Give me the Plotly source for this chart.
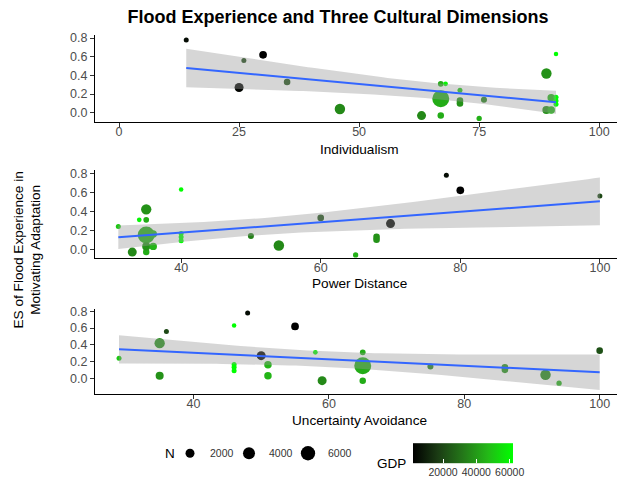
import numpy as np
import plotly.graph_objects as go

# Hofstede dimension scores per study sample
individualism = [14, 30, 26, 25, 35, 46, 63, 67, 67, 67, 68, 71,
                 71, 71, 75, 76, 89, 89, 90, 90, 91, 91, 91, 91]
power_distance = [78, 80, 100, 70, 60, 54, 33, 35, 35, 35, 34, 31,
                  68, 68, 65, 50, 35, 35, 36, 36, 40, 40, 40, 40]
uncertainty_avoidance = [48, 55, 36, 50, 100, 92, 59, 65, 65, 65, 58, 29,
                         86, 86, 94, 75, 35, 35, 51, 51, 46, 46, 46, 46]

# Effect size of flood experience, sample size and GDP per sample
effect_size = [0.78, 0.62, 0.56, 0.27, 0.33, 0.04, -0.03, 0.15, 0.31, -0.03, 0.31, 0.24,
               0.13, 0.10, -0.06, 0.14, 0.42, 0.03, 0.16, 0.03, 0.63, 0.165, 0.13, 0.09]
sample_n = [400, 1350, 400, 2000, 900, 2900, 2000, 8800, 600, 850, 330, 400,
            900, 900, 480, 700, 2800, 1500, 1250, 1250, 290, 400, 400, 400]
gdp = [5000, 2000, 20000, 3000, 22000, 36000, 36000, 44000, 44000, 44000, 60000, 50000,
       38000, 38000, 45000, 34000, 38000, 38000, 46000, 46000, 62000, 62000, 62000, 62000]

n_legend = [2000, 4000, 6000]
gdp_ticks = [20000, 40000, 60000]

FONT = "Liberation Sans, Arial, sans-serif"
W, H = 617, 483

# black -> green gradient (interpolated in Lab space)
GDP_SCALE = [[0.0, "#000000"], [0.25, "rgb(27,60,20)"], [0.5, "rgb(36,120,25)"],
             [0.75, "rgb(35,185,23)"], [1.0, "#00FF00"]]

T_CRIT = {22: 2.0739}


def marker_px(n):
    return 1.76 + 0.162 * np.sqrt(np.asarray(n, dtype=float))


def lm_band(x, y, num=80):
    x = np.asarray(x, dtype=float)
    y = np.asarray(y, dtype=float)
    n = len(x)
    slope, intercept = np.polyfit(x, y, 1)
    resid = y - (intercept + slope * x)
    s = np.sqrt(np.sum(resid ** 2) / (n - 2))
    xbar = x.mean()
    sxx = np.sum((x - xbar) ** 2)
    xs = np.linspace(x.min(), x.max(), num)
    fit = intercept + slope * xs
    se = s * np.sqrt(1.0 / n + (xs - xbar) ** 2 / sxx)
    t = T_CRIT.get(n - 2, 1.96)
    return xs, fit, fit - t * se, fit + t * se


def py(px):
    return 1 - px / H


panels = [
    dict(x=individualism, title="Individualism", top=31, bottom=119.3,
         xrange=[-5.0, 103.7], yrange=[-0.102, 0.835], ticks=[0, 25, 50, 75, 100], title_y=146.3),
    dict(x=power_distance, title="Power Distance", top=167.5, bottom=256,
         xrange=[27.66, 102.45], yrange=[-0.091, 0.833], ticks=[40, 60, 80, 100], title_y=282.2),
    dict(x=uncertainty_avoidance, title="Uncertainty Avoidance", top=307.8, bottom=393.3,
         xrange=[25.45, 102.56], yrange=[-0.19, 0.826], ticks=[40, 60, 80, 100], title_y=419.6),
]

fig = go.Figure()
x_left = 95 / W
annotations = []
gmin, gmax = min(gdp), max(gdp)

for i, p in enumerate(panels, start=1):
    sfx = "" if i == 1 else str(i)
    xa, ya = "x" + sfx, "y" + sfx

    fig.add_trace(go.Scatter(
        x=p["x"], y=effect_size, mode="markers", xaxis=xa, yaxis=ya, showlegend=False,
        marker=dict(size=marker_px(sample_n), color=gdp, colorscale=GDP_SCALE,
                    cmin=gmin, cmax=gmax, line=dict(width=0), opacity=1,
                    showscale=(i == 1),
                    colorbar=dict(orientation="h", x=463 / W, xanchor="center",
                                  y=py(463), yanchor="middle", len=100, lenmode="pixels",
                                  thickness=20, outlinewidth=0, xpad=0, ypad=0,
                                  tickvals=gdp_ticks, tickformat="d", ticks="inside",
                                  ticklen=4, tickcolor="white", tickwidth=1,
                                  tickfont=dict(size=10.5, color="#333333", family=FONT)))))

    xs, fit, lo, hi = lm_band(p["x"], effect_size)
    fig.add_trace(go.Scatter(
        x=np.concatenate([xs, xs[::-1]]), y=np.concatenate([hi, lo[::-1]]),
        mode="lines", fill="toself", fillcolor="rgba(153,153,153,0.4)",
        line=dict(width=0), xaxis=xa, yaxis=ya, showlegend=False, hoverinfo="skip"))
    fig.add_trace(go.Scatter(
        x=xs, y=fit, mode="lines", line=dict(color="#3366FF", width=2),
        xaxis=xa, yaxis=ya, showlegend=False, hoverinfo="skip"))

    axis_common = dict(showgrid=False, zeroline=False, showline=True, linecolor="#000000",
                       linewidth=1, ticks="outside", ticklen=4, tickcolor="#333333",
                       tickfont=dict(size=12.5, color="#4D4D4D", family=FONT))
    fig.layout["xaxis" + sfx] = dict(domain=[x_left, 1.0], range=p["xrange"], anchor=ya,
                                     tickvals=p["ticks"], ticklabelstandoff=-6, **axis_common)
    fig.layout["yaxis" + sfx] = dict(domain=[py(p["bottom"]), py(p["top"])], range=p["yrange"],
                                     anchor=xa, tickvals=[0, 0.2, 0.4, 0.6, 0.8],
                                     tickformat=".1f", **axis_common)
    annotations.append(dict(text=p["title"], x=359.5 / W, y=py(p["title_y"]),
                            xref="paper", yref="paper", showarrow=False,
                            xanchor="center", yanchor="middle",
                            font=dict(size=13.6, color="#000000", family=FONT)))

# size legend entries
for n in n_legend:
    fig.add_trace(go.Scatter(x=[None], y=[None], mode="markers", name=str(n),
                             marker=dict(size=float(marker_px(n)), color="#000000"),
                             showlegend=True, xaxis="x", yaxis="y"))
# blank trailing slot so the last label has room inside the legend box
fig.add_trace(go.Scatter(x=[None], y=[None], mode="markers", name="\u00a0",
                         marker=dict(size=1, color="rgba(0,0,0,0)"),
                         showlegend=True, xaxis="x", yaxis="y", hoverinfo="skip"))

annotations.append(dict(text="ES of Flood Experience in<br>Motivating Adaptation",
                        x=27.5 / W, y=py(248), xref="paper", yref="paper", showarrow=False,
                        textangle=-90, xanchor="center", yanchor="middle",
                        font=dict(size=13.6, color="#000000", family=FONT)))
annotations.append(dict(text="N", x=170 / W, y=py(453), xref="paper", yref="paper",
                        showarrow=False, xanchor="center", yanchor="middle",
                        font=dict(size=13.5, color="#000000", family=FONT)))
annotations.append(dict(text="GDP", x=391 / W, y=py(463), xref="paper", yref="paper",
                        showarrow=False, xanchor="center", yanchor="middle",
                        font=dict(size=13.5, color="#000000", family=FONT)))

fig.update_layout(
    width=W, height=H, margin=dict(l=0, r=0, t=0, b=0),
    paper_bgcolor="white", plot_bgcolor="white",
    font=dict(family=FONT, color="#000000"),
    title=dict(text="<b>Flood Experience and Three Cultural Dimensions</b>",
               x=338 / W, xanchor="center", y=py(16.5), yanchor="middle",
               font=dict(size=18, color="#000000", family=FONT)),
    legend=dict(orientation="h", x=170 / W, xanchor="left", y=py(453), yanchor="middle",
                font=dict(size=10.5, color="#333333", family=FONT),
                entrywidth=14, entrywidthmode="pixels",
                itemsizing="trace", bgcolor="rgba(0,0,0,0)"),
    annotations=annotations,
)

fig.write_html("out.html")
